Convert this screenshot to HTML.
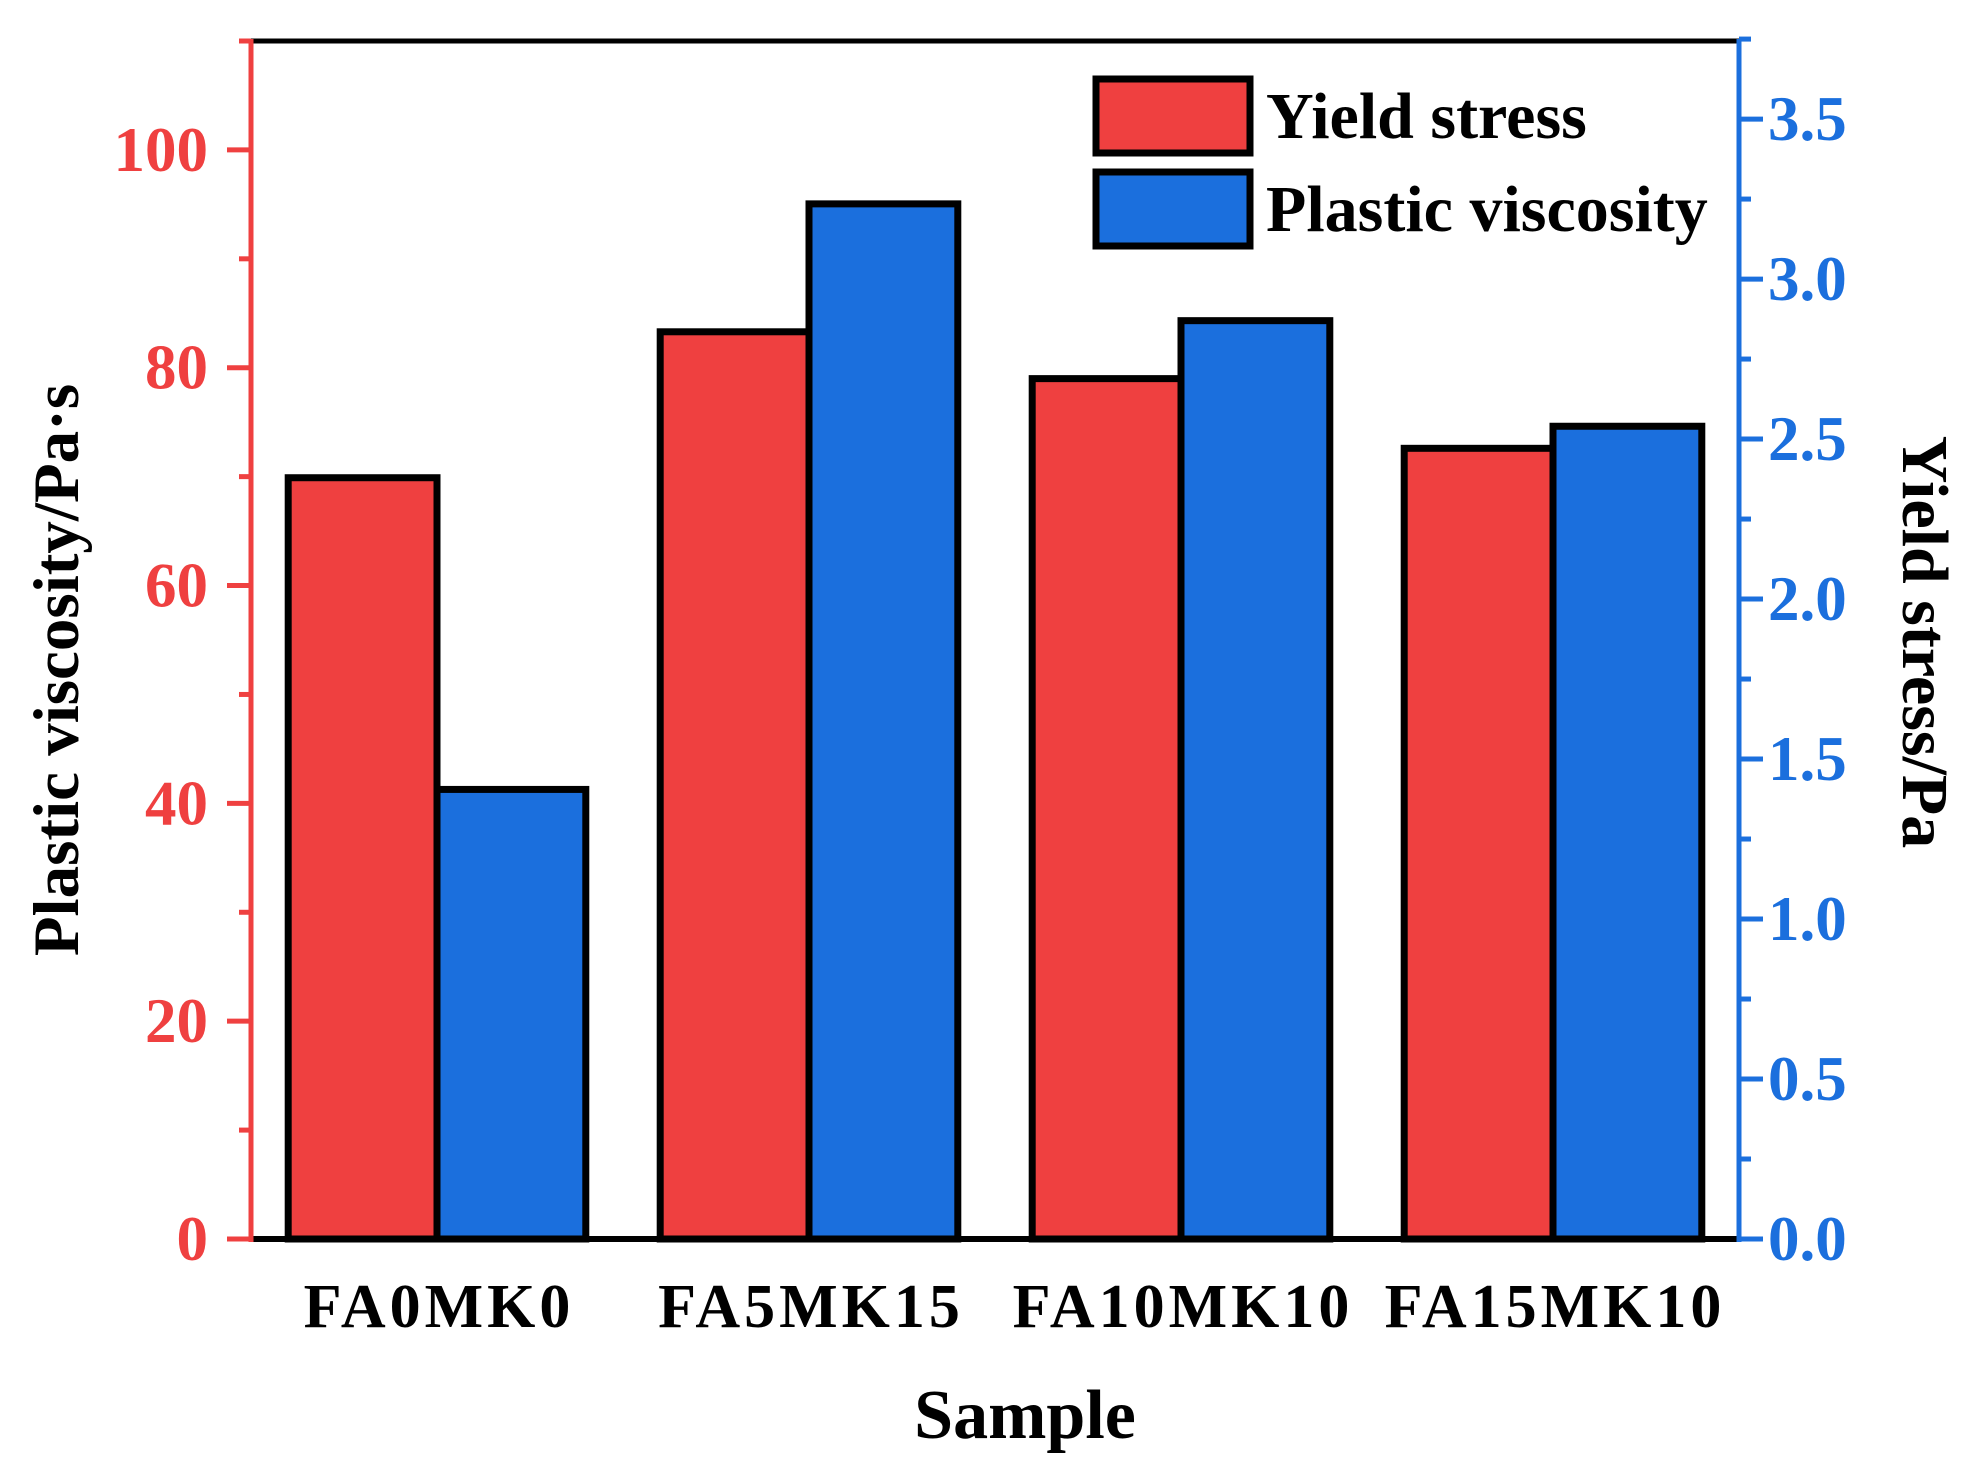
<!DOCTYPE html>
<html><head><meta charset="utf-8"><style>
html,body{margin:0;padding:0;background:#fff;}
svg text{font-family:"Liberation Serif",serif;font-weight:bold;}
</style></head><body>
<svg id="chart" width="1965" height="1474" xmlns="http://www.w3.org/2000/svg" style="position:absolute;left:0;top:0"></svg>
<script>
const categories = ["FA0MK0","FA5MK15","FA10MK10","FA15MK10"];
const redValues = [69.9, 83.3, 79.0, 72.6];      // left axis units
const blueValues = [1.405, 3.235, 2.87, 2.54];   // right axis units
const leftTicks = [0,20,40,60,80,100];
const rightTicks = [0.0,0.5,1.0,1.5,2.0,2.5,3.0,3.5];

const X0=251, X1=1739, Y0=1239, Y1=41;
const LMAX=110, RMAX=3.744;
const RED="#ef4040", BLUE="#1b6fdd";
const svg=document.getElementById('chart');
const NS="http://www.w3.org/2000/svg";
function mk(tag,attrs,parent){const e=document.createElementNS(NS,tag);for(const k in attrs)e.setAttribute(k,attrs[k]);(parent||svg).appendChild(e);return e;}
const yL=v=>Y0-(v/LMAX)*(Y0-Y1);
const yR=v=>Y0-(v/RMAX)*(Y0-Y1);
const band=(X1-X0)/categories.length;
const xC=i=>X0+band*(i+0.5);
const bw=band*0.4;

categories.forEach((c,i)=>{
  const r=mk('rect',{x:xC(i)-bw,y:yL(redValues[i]),width:bw,height:Y0-yL(redValues[i]),fill:RED,stroke:"#000","stroke-width":7});
  
  
  const b=mk('rect',{x:xC(i),y:yR(blueValues[i]),width:bw,height:Y0-yR(blueValues[i]),fill:BLUE,stroke:"#000","stroke-width":7});
  
  
  const t=mk('text',{x:xC(i)+2,y:1327,"text-anchor":"middle","font-size":62,"letter-spacing":4,fill:"#000"});
  t.textContent=c;
  
  
});

const topBorder=mk('line',{x1:X0,y1:Y1,x2:X1,y2:Y1,stroke:"#000","stroke-width":5});


const bot=mk('line',{x1:X0,y1:Y0,x2:X1,y2:Y0,stroke:"#000","stroke-width":6});


const la=mk('line',{x1:X0,y1:Y1-2,x2:X0,y2:Y0+3,stroke:RED,"stroke-width":5});


const ra=mk('line',{x1:X1,y1:Y1-2,x2:X1,y2:Y0+3,stroke:BLUE,"stroke-width":5});



for(let v=0;v<=LMAX;v+=10){
  const major=v%20===0;
  mk('line',{x1:X0,y1:yL(v),x2:X0-(major?24:12),y2:yL(v),stroke:RED,"stroke-width":5});
}
leftTicks.forEach(v=>{
  const t=mk('text',{x:208,y:yL(v)+21,"text-anchor":"end","font-size":63,fill:RED});
  t.textContent=v;
  
  
});
for(let k=0;k<=7;k++){
  const v=k*0.5;
  mk('line',{x1:X1,y1:yR(v),x2:X1+24,y2:yR(v),stroke:BLUE,"stroke-width":5});
  mk('line',{x1:X1,y1:yR(v+0.25),x2:X1+12,y2:yR(v+0.25),stroke:BLUE,"stroke-width":5});
}
rightTicks.forEach(v=>{
  const t=mk('text',{x:1768,y:yR(v)+21,"text-anchor":"start","font-size":63,fill:BLUE});
  t.textContent=v.toFixed(1);
  
  
});
</script>
<svg style="position:absolute;left:0;top:0" width="1965" height="1474" xmlns="http://www.w3.org/2000/svg">
  <g>
    <rect x="1096" y="79" width="154" height="74" fill="#ef4040" stroke="#000" stroke-width="7"/>
    <text x="1266" y="138" font-size="66" fill="#000">Yield stress</text>
    <rect x="1096" y="172" width="154" height="74" fill="#1b6fdd" stroke="#000" stroke-width="7"/>
    <text x="1266" y="231" font-size="66" fill="#000">Plastic viscosity</text>
  </g>
  <text x="1025" y="1438" text-anchor="middle" font-size="70" fill="#000">Sample</text>
  <text transform="translate(78,670) rotate(-90)" text-anchor="middle" font-size="65" fill="#000">Plastic viscosity/Pa·s</text>
  <text transform="translate(1903,642) rotate(90)" text-anchor="middle" font-size="66" fill="#000">Yield stress/Pa</text>
</svg>
</body></html>
